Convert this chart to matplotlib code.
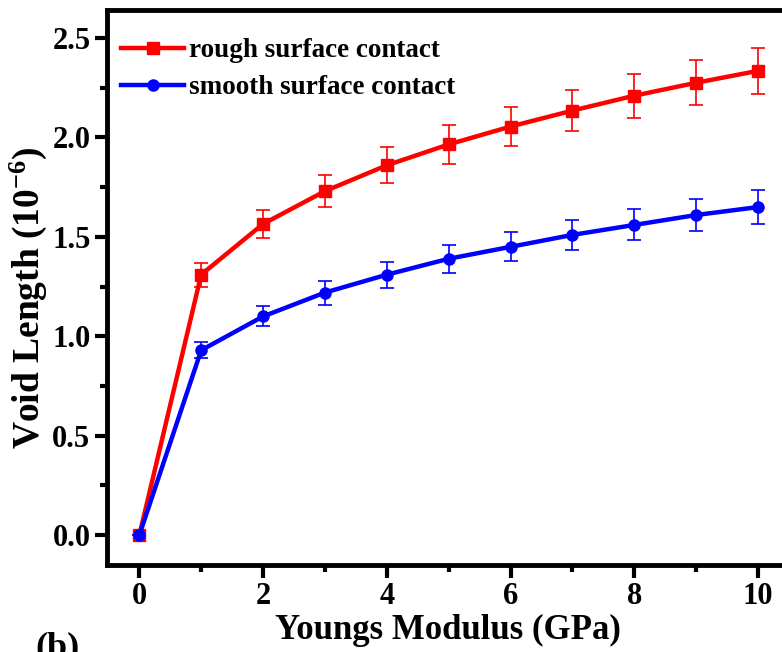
import matplotlib
matplotlib.use("Agg")
from matplotlib import pyplot as plt
from matplotlib.ticker import MultipleLocator, FormatStrFormatter

modulus = [0, 1, 2, 3, 4, 5, 6, 7, 8, 9, 10]

rough = [0.0, 1.31, 1.565, 1.73, 1.86, 1.965, 2.055, 2.135, 2.21, 2.275, 2.335]
rough_err = [0.0, 0.06, 0.07, 0.08, 0.09, 0.099, 0.10, 0.105, 0.11, 0.112, 0.116]

smooth = [0.0, 0.93, 1.10, 1.22, 1.31, 1.39, 1.45, 1.51, 1.56, 1.61, 1.65]
smooth_err = [0.0, 0.04, 0.05, 0.06, 0.065, 0.07, 0.073, 0.076, 0.078, 0.08, 0.084]

plt.rcParams["font.family"] = ["Liberation Serif", "DejaVu Serif"]
plt.rcParams["font.weight"] = "bold"
plt.rcParams["mathtext.fontset"] = "custom"
plt.rcParams["mathtext.rm"] = "Liberation Serif:bold"
plt.rcParams["mathtext.default"] = "rm"

fig = plt.figure(figsize=(7.82, 6.52), dpi=100)
ax = fig.add_axes([0.137, 0.1334, 0.872, 0.851])

# error bars first, then the lines + markers on top
ax.errorbar(modulus, rough, yerr=rough_err, fmt="none", ecolor="#ff0000",
            elinewidth=1.2, capsize=5, capthick=1.2)
ax.errorbar(modulus, smooth, yerr=smooth_err, fmt="none", ecolor="#0000ff",
            elinewidth=1.2, capsize=5, capthick=1.2)
ax.plot(modulus, rough, color="#ff0000", marker="s", markersize=8, linewidth=3.2,
        label="rough surface contact")
ax.plot(modulus, smooth, color="#0000ff", marker="o", markersize=8, linewidth=3.2,
        label="smooth surface contact")

ax.set_xlim(-0.52, 10.5)
ax.set_ylim(-0.15, 2.64)
ax.xaxis.set_major_locator(MultipleLocator(2))
ax.xaxis.set_minor_locator(MultipleLocator(1))
ax.yaxis.set_major_locator(MultipleLocator(0.5))
ax.yaxis.set_minor_locator(MultipleLocator(0.25))
ax.yaxis.set_major_formatter(FormatStrFormatter("%.1f"))

for side in ax.spines.values():
    side.set_linewidth(3.5)
ax.tick_params(which="major", direction="out", length=9, width=3, labelsize=22, pad=3)
ax.tick_params(which="minor", direction="out", length=5, width=3)
ax.tick_params(axis="x", pad=3)
ax.tick_params(top=False, right=False)

ax.set_xlabel("Youngs Modulus (GPa)", fontsize=25, fontweight="bold", labelpad=2)
ax.set_ylabel("Void Length (10$^{-6}$)", fontsize=27, fontweight="bold")
ax.yaxis.set_label_coords(-0.085, 0.481)

ax.legend(loc="upper left", bbox_to_anchor=(0.009, 0.964), frameon=False,
          handlelength=2.3, handletextpad=0.2, labelspacing=0.45,
          borderaxespad=0, borderpad=0.3,
          prop={"weight": "bold", "size": 19.5})

fig.text(0.045, -0.006, "(b)", fontsize=26, fontweight="bold", ha="left", va="baseline")

fig.savefig("out.png", dpi=100)
